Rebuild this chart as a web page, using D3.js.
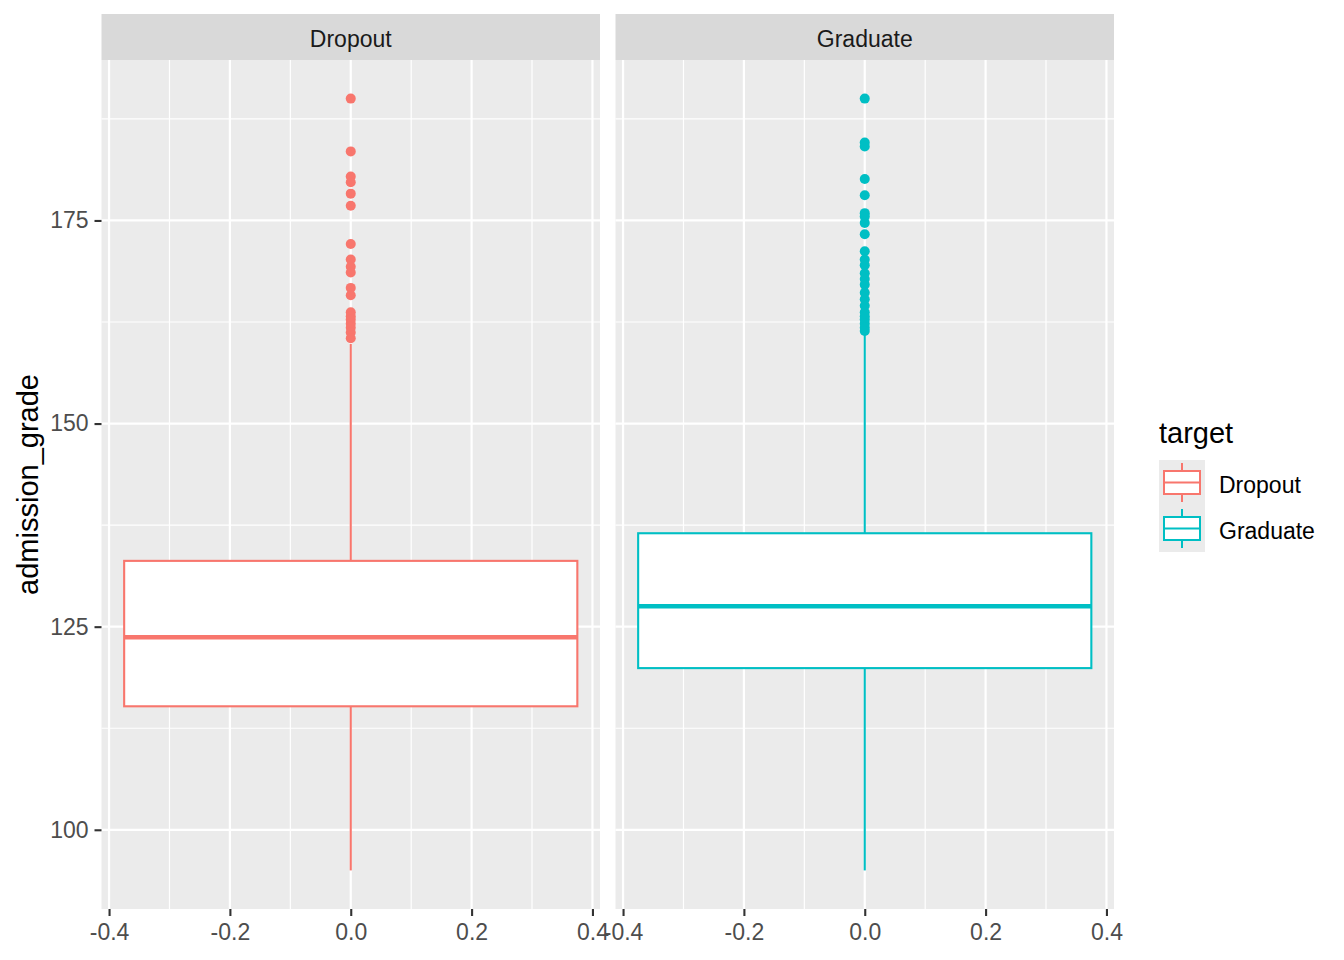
<!DOCTYPE html>
<html>
<head>
<meta charset="utf-8">
<script src="https://cdn.jsdelivr.net/npm/d3@7"></script>
<style>
  html, body { margin: 0; padding: 0; background: #fff; }
  svg { display: block; font-family: Arial, "Liberation Sans", sans-serif; }
</style>
</head>
<body>
<svg id="chart" width="1344" height="960"></svg>
<script>
// ---- data ----
const categories = ["Dropout", "Graduate"];
const colors = ["#F8766D", "#00BFC4"];
const q1 = [115.2, 119.9];
const medians = [123.7, 127.5];
const q3 = [133.1, 136.5];
const whiskerLow = [95, 95];
const whiskerHigh = [159.8, 161.1];
const outliersDropout = [190, 183.5, 180.4, 179.7, 178.3, 176.8, 172.1, 170.2, 169.3, 168.6,
  166.7, 165.8, 163.7, 163.2, 162.8, 162.3, 161.8, 161.2, 160.5];
const outliersGraduate = [190, 184.6, 184.1, 180.1, 178.1, 175.9, 175.5, 174.7, 173.3, 171.2,
  170.2, 169.5, 168.5, 167.8, 167.1, 166.1, 165.3, 164.5, 163.7, 163.2, 162.8, 162.3, 161.8, 161.4];
const outliers = [outliersDropout, outliersGraduate];
const yTicks = [100, 125, 150, 175];
const yMinor = [112.5, 137.5, 162.5, 187.5];
const xTicks = [-0.4, -0.2, 0.0, 0.2, 0.4];
const xTickLabels = ["-0.4", "-0.2", "0.0", "0.2", "0.4"];
const xMinor = [-0.3, -0.1, 0.1, 0.3];
const boxHalfWidth = 0.375;
const legendTitle = "target";
const yTitle = "admission_grade";

// ---- layout ----
const svg = d3.select("#chart");
const panelTop = 60, panelBottom = 909;
const stripTop = 14;
const panels = [{ left: 101.5, right: 600 }, { left: 615.5, right: 1114 }];
const y = d3.scaleLinear().domain([90.25, 194.75]).range([panelBottom, panelTop]);

panels.forEach((p, i) => {
  const x = d3.scaleLinear().domain([-0.4125, 0.4125]).range([p.left, p.right]);
  const g = svg.append("g");
  // strip
  g.append("rect").attr("x", p.left).attr("y", stripTop).attr("width", p.right - p.left)
    .attr("height", panelTop - stripTop).attr("fill", "#D9D9D9");
  g.append("text").attr("x", (p.left + p.right) / 2).attr("y", (stripTop + panelTop) / 2 + 2)
    .attr("dy", "0.35em").attr("text-anchor", "middle").attr("font-size", 23)
    .attr("fill", "#1A1A1A").text(categories[i]);
  // panel background
  g.append("rect").attr("x", p.left).attr("y", panelTop).attr("width", p.right - p.left)
    .attr("height", panelBottom - panelTop).attr("fill", "#EBEBEB");
  // minor grid
  g.selectAll(".ymin").data(yMinor).enter().append("line")
    .attr("x1", p.left).attr("x2", p.right).attr("y1", d => y(d)).attr("y2", d => y(d))
    .attr("stroke", "#fff").attr("stroke-width", 1.2);
  g.selectAll(".xmin").data(xMinor).enter().append("line")
    .attr("y1", panelTop).attr("y2", panelBottom).attr("x1", d => x(d)).attr("x2", d => x(d))
    .attr("stroke", "#fff").attr("stroke-width", 1.2);
  // major grid
  g.selectAll(".ymaj").data(yTicks).enter().append("line")
    .attr("x1", p.left).attr("x2", p.right).attr("y1", d => y(d)).attr("y2", d => y(d))
    .attr("stroke", "#fff").attr("stroke-width", 2.2);
  g.selectAll(".xmaj").data(xTicks).enter().append("line")
    .attr("y1", panelTop).attr("y2", panelBottom).attr("x1", d => x(d)).attr("x2", d => x(d))
    .attr("stroke", "#fff").attr("stroke-width", 2.2);

  const c = colors[i];
  // whiskers
  g.append("line").attr("x1", x(0)).attr("x2", x(0))
    .attr("y1", y(whiskerLow[i])).attr("y2", y(q1[i])).attr("stroke", c).attr("stroke-width", 2.1);
  g.append("line").attr("x1", x(0)).attr("x2", x(0))
    .attr("y1", y(q3[i])).attr("y2", y(whiskerHigh[i])).attr("stroke", c).attr("stroke-width", 2.1);
  // box
  g.append("rect").attr("x", x(-boxHalfWidth)).attr("y", y(q3[i]))
    .attr("width", x(boxHalfWidth) - x(-boxHalfWidth)).attr("height", y(q1[i]) - y(q3[i]))
    .attr("fill", "#fff").attr("stroke", c).attr("stroke-width", 2.1);
  // median
  g.append("line").attr("x1", x(-boxHalfWidth)).attr("x2", x(boxHalfWidth))
    .attr("y1", y(medians[i])).attr("y2", y(medians[i])).attr("stroke", c).attr("stroke-width", 4.5);
  // outliers
  g.selectAll(".out").data(outliers[i]).enter().append("circle")
    .attr("cx", x(0)).attr("cy", d => y(d)).attr("r", 5).attr("fill", c);

  // x axis
  const xa = g.append("g").attr("transform", `translate(0,${panelBottom})`)
    .call(d3.axisBottom(x).tickValues(xTicks)
      .tickFormat((d, j) => xTickLabels[j]).tickSize(7).tickPadding(8));
  xa.select(".domain").remove();
  xa.selectAll(".tick line").attr("stroke", "#333").attr("stroke-width", 2.1);
  xa.selectAll(".tick text").attr("fill", "#4D4D4D").attr("font-size", 23)
    .attr("font-family", "Arial, 'Liberation Sans', sans-serif");
});

// y axis
const ya = svg.append("g").attr("transform", `translate(${panels[0].left},0)`)
  .call(d3.axisLeft(y).tickValues(yTicks).tickSize(7).tickPadding(6));
ya.select(".domain").remove();
ya.selectAll(".tick line").attr("stroke", "#333").attr("stroke-width", 2.1);
ya.selectAll(".tick text").attr("fill", "#4D4D4D").attr("font-size", 23)
  .attr("font-family", "Arial, 'Liberation Sans', sans-serif");

// y title
svg.append("text").attr("transform", `translate(38,${(panelTop + panelBottom) / 2}) rotate(-90)`)
  .attr("text-anchor", "middle").attr("font-size", 29).attr("fill", "#000").text(yTitle);

// legend
const lg = svg.append("g");
lg.append("text").attr("x", 1159).attr("y", 443).attr("font-size", 29).attr("fill", "#000").text(legendTitle);
categories.forEach((cat, i) => {
  const top = 460 + i * 46;
  const k = lg.append("g");
  k.append("rect").attr("x", 1159).attr("y", top).attr("width", 46).attr("height", 46).attr("fill", "#EBEBEB");
  const cx = 1182;
  k.append("line").attr("x1", cx).attr("x2", cx).attr("y1", top + 3).attr("y2", top + 11)
    .attr("stroke", colors[i]).attr("stroke-width", 2);
  k.append("line").attr("x1", cx).attr("x2", cx).attr("y1", top + 34).attr("y2", top + 42)
    .attr("stroke", colors[i]).attr("stroke-width", 2);
  k.append("rect").attr("x", 1164).attr("y", top + 11).attr("width", 36).attr("height", 23)
    .attr("fill", "#fff").attr("stroke", colors[i]).attr("stroke-width", 2);
  k.append("line").attr("x1", 1164).attr("x2", 1200).attr("y1", top + 22.5).attr("y2", top + 22.5)
    .attr("stroke", colors[i]).attr("stroke-width", 2);
  lg.append("text").attr("x", 1219).attr("y", top + 25).attr("dy", "0.35em")
    .attr("font-size", 23).attr("fill", "#000").text(cat);
});
</script>
</body>
</html>
